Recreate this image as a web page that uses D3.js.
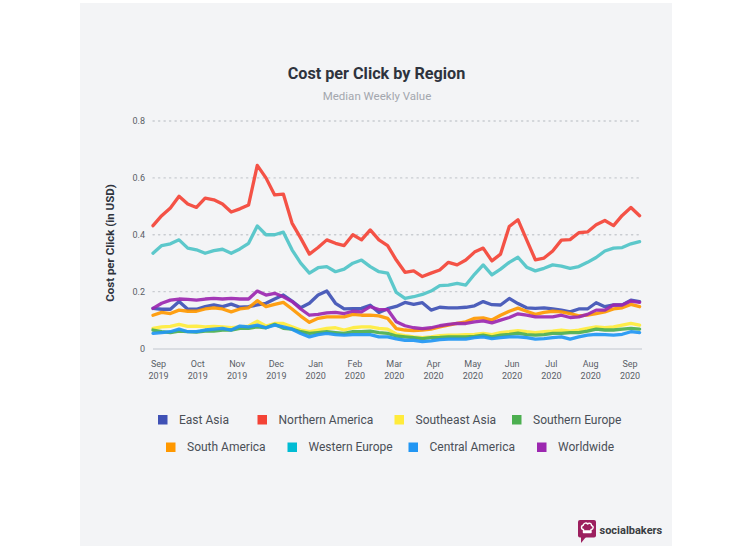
<!DOCTYPE html>
<html><head><meta charset="utf-8">
<script src="https://cdn.jsdelivr.net/npm/d3@7"></script>
<style>
html,body{margin:0;padding:0;background:#fff;}
svg{display:block;font-family:Roboto,"Noto Sans",sans-serif;}
</style></head>
<body><svg id="c" width="750" height="549"></svg>
<script>
// ---- data ----
const monthLabels = ["Sep","Oct","Nov","Dec","Jan","Feb","Mar","Apr","May","Jun","Jul","Aug","Sep"];
const yearLabels  = ["2019","2019","2019","2019","2020","2020","2020","2020","2020","2020","2020","2020","2020"];
const yTicks = [0, 0.2, 0.4, 0.6, 0.8];
const seriesNames = ["East Asia","Northern America","Southeast Asia","Southern Europe","South America","Western Europe","Central America","Worldwide"];
const seriesColors = ["#3F51B5","#F44336","#FFEB3B","#4CAF50","#FF9800","#4FC3C7","#2196F3","#9C27B0"];
const legendColors = ["#3F51B5","#F44336","#FFEB3B","#4CAF50","#FF9800","#00BCD4","#2196F3","#9C27B0"];

const eastAsia = [0.141,0.138,0.138,0.165,0.138,0.138,0.147,0.153,0.147,0.156,0.145,0.147,0.153,0.159,0.174,0.188,0.167,0.143,0.159,0.188,0.202,0.159,0.139,0.14,0.141,0.152,0.127,0.14,0.148,0.162,0.155,0.161,0.135,0.145,0.143,0.143,0.145,0.15,0.165,0.154,0.153,0.176,0.158,0.143,0.141,0.143,0.139,0.135,0.129,0.139,0.139,0.161,0.147,0.153,0.153,0.17,0.165];
const northernAmerica = [0.432,0.467,0.494,0.535,0.508,0.496,0.529,0.523,0.508,0.48,0.491,0.505,0.644,0.60,0.54,0.543,0.441,0.388,0.332,0.355,0.382,0.37,0.362,0.40,0.382,0.417,0.382,0.362,0.311,0.268,0.273,0.253,0.265,0.276,0.303,0.294,0.311,0.339,0.353,0.308,0.332,0.429,0.453,0.382,0.312,0.318,0.343,0.381,0.383,0.407,0.41,0.435,0.45,0.432,0.468,0.496,0.467];
const southeastAsia = [0.071,0.076,0.078,0.085,0.078,0.079,0.076,0.078,0.076,0.073,0.076,0.079,0.096,0.079,0.088,0.088,0.076,0.065,0.059,0.065,0.071,0.073,0.065,0.073,0.076,0.076,0.071,0.068,0.051,0.045,0.041,0.038,0.041,0.045,0.047,0.047,0.049,0.05,0.053,0.049,0.056,0.059,0.063,0.059,0.056,0.059,0.061,0.065,0.061,0.065,0.071,0.076,0.073,0.076,0.082,0.088,0.082];
const southernEurope = [0.065,0.059,0.056,0.061,0.059,0.058,0.061,0.061,0.065,0.065,0.071,0.071,0.076,0.073,0.085,0.071,0.068,0.059,0.053,0.056,0.059,0.056,0.053,0.059,0.059,0.061,0.056,0.053,0.044,0.041,0.038,0.035,0.038,0.039,0.041,0.041,0.041,0.043,0.047,0.041,0.047,0.05,0.054,0.049,0.047,0.049,0.053,0.053,0.056,0.056,0.061,0.068,0.065,0.065,0.068,0.071,0.068];
const southAmerica = [0.117,0.127,0.123,0.135,0.131,0.131,0.139,0.143,0.139,0.129,0.139,0.143,0.168,0.147,0.155,0.162,0.139,0.114,0.092,0.106,0.111,0.111,0.111,0.12,0.117,0.117,0.115,0.106,0.07,0.065,0.063,0.065,0.068,0.076,0.082,0.088,0.094,0.106,0.108,0.1,0.117,0.131,0.142,0.131,0.12,0.127,0.131,0.129,0.123,0.115,0.117,0.123,0.129,0.139,0.143,0.155,0.147];
const westernEurope = [0.335,0.362,0.368,0.382,0.353,0.347,0.335,0.344,0.349,0.335,0.35,0.37,0.431,0.40,0.40,0.409,0.347,0.30,0.265,0.284,0.288,0.27,0.279,0.30,0.311,0.288,0.27,0.265,0.197,0.176,0.182,0.19,0.202,0.221,0.223,0.229,0.223,0.261,0.294,0.259,0.279,0.303,0.321,0.286,0.273,0.282,0.294,0.29,0.282,0.288,0.303,0.32,0.343,0.353,0.355,0.368,0.376];
const centralAmerica = [0.053,0.056,0.059,0.068,0.059,0.059,0.065,0.068,0.071,0.065,0.079,0.076,0.082,0.073,0.082,0.076,0.068,0.053,0.041,0.049,0.053,0.049,0.047,0.049,0.049,0.049,0.041,0.041,0.034,0.029,0.029,0.024,0.027,0.031,0.033,0.033,0.033,0.038,0.041,0.035,0.038,0.041,0.041,0.038,0.033,0.035,0.038,0.041,0.033,0.041,0.047,0.05,0.049,0.047,0.05,0.059,0.056];
const worldwide = [0.141,0.159,0.17,0.174,0.173,0.17,0.174,0.176,0.174,0.176,0.174,0.174,0.202,0.188,0.194,0.182,0.165,0.139,0.117,0.12,0.125,0.127,0.123,0.131,0.129,0.147,0.137,0.137,0.094,0.08,0.073,0.07,0.073,0.08,0.085,0.088,0.088,0.094,0.097,0.09,0.1,0.109,0.122,0.117,0.111,0.111,0.111,0.117,0.109,0.111,0.12,0.135,0.135,0.153,0.153,0.167,0.162];
const seriesValues = [eastAsia,northernAmerica,southeastAsia,southernEurope,southAmerica,westernEurope,centralAmerica,worldwide];

// ---- layout ----
const svg = d3.select("#c");
svg.append("rect").attr("x",80).attr("y",3).attr("width",592).attr("height",543).attr("fill","#F3F4F6");

const weeks = d3.range(eastAsia.length);
const x = d3.scaleLinear().domain([0, weeks.length-1]).range([153, 639.6]);
const xMonth = d3.scalePoint().domain(d3.range(monthLabels.length)).range([158.5, 630]);
const y = d3.scaleLinear().domain([0, 0.8]).range([348.5, 121]);

// title
svg.append("text").attr("x",376.5).attr("y",78.5).attr("text-anchor","middle")
  .attr("font-size",16.2).attr("font-weight","bold").attr("fill","#2E333D").text("Cost per Click by Region");
svg.append("text").attr("x",377).attr("y",100).attr("text-anchor","middle")
  .attr("font-size",11.5).attr("fill","#A3A7AE").text("Median Weekly Value");

// grid
const grid = svg.append("g");
grid.selectAll("line.g").data(yTicks.filter(d=>d>0)).join("line")
  .attr("x1",153).attr("x2",642).attr("y1",d=>y(d)).attr("y2",d=>y(d))
  .attr("stroke","#C9CCD1").attr("stroke-width",1.3).attr("stroke-dasharray","1.3,4.2").attr("stroke-linecap","round");
grid.append("line").attr("x1",153).attr("x2",642).attr("y1",y(0)+0.5).attr("y2",y(0)+0.5)
  .attr("stroke","#DADDE2").attr("stroke-width",2);

// y axis labels
const yAxis = d3.axisLeft(y).tickValues(yTicks).tickSize(0).tickPadding(0).tickFormat(d=>d===0?"0":d3.format(".1f")(d));
const ya = svg.append("g").attr("transform","translate(145,0)").call(yAxis);
ya.select(".domain").remove();
ya.selectAll("text").attr("font-size",9).attr("fill","#5A5E66").attr("font-family","Roboto");

svg.append("text").attr("transform","translate(114,243) rotate(-90)").attr("text-anchor","middle")
  .attr("font-size",11.5).attr("font-weight","bold").attr("fill","#2E333D").text("Cost per Click (in USD)");

// x axis labels
const xa = svg.append("g");
xa.selectAll("text.m").data(monthLabels).join("text")
  .attr("x",(d,i)=>xMonth(i)).attr("y",367).attr("text-anchor","middle")
  .attr("font-size",9).attr("fill","#5A5E66").text(d=>d);
xa.selectAll("text.yr").data(yearLabels).join("text")
  .attr("x",(d,i)=>xMonth(i)).attr("y",378.5).attr("text-anchor","middle")
  .attr("font-size",9).attr("fill","#5A5E66").text(d=>d);

// lines
const line = d3.line().x((d,i)=>x(weeks[i])).y(d=>y(d)).curve(d3.curveLinear);
svg.append("g").selectAll("path").data(seriesValues).join("path")
  .attr("d",line).attr("fill","none").attr("stroke",(d,i)=>seriesColors[i])
  .attr("stroke-width",3.3).attr("stroke-linejoin","round").attr("stroke-linecap","round").attr("stroke-opacity",0.92);

// legend
const legendPos = [[158,415],[257.5,415],[394.5,415],[512,415],[166,442.5],[287.5,442.5],[408.5,442.5],[537,442.5]];
const lg = svg.append("g").selectAll("g").data(seriesNames).join("g")
  .attr("transform",(d,i)=>`translate(${legendPos[i][0]},${legendPos[i][1]})`);
lg.append("rect").attr("width",9.5).attr("height",9.5).attr("fill",(d,i)=>legendColors[i]);
lg.append("text").attr("x",21).attr("y",8.6).attr("font-size",12).attr("fill","#4A4F57").text(d=>d);

// logo
const logo = svg.append("g").attr("transform","translate(578,520)");
logo.append("rect").attr("width",18).attr("height",17.5).attr("rx",2).attr("fill","#9C1F5E");
logo.append("path").attr("d","M3,17 L3,23 L8,17 Z").attr("fill","#9C1F5E");
logo.append("path").attr("d","M5.5,12.5 L5.5,9.5 C3,9.5 2.8,5.5 5.3,5.2 C5.6,3 8.5,2.3 9.6,4 C11,2.5 13.8,3.4 13.5,5.6 C16,6 15.5,9.6 13,9.5 L13,12.5 Z M5.5,11 L13,11")
  .attr("fill","none").attr("stroke","#fff").attr("stroke-width",1.4).attr("stroke-linejoin","round");
svg.append("text").attr("x",599.5).attr("y",533.5).attr("font-size",11).attr("font-weight","bold").attr("fill","#3A3D42").text("socialbakers");
</script>
</body></html>
